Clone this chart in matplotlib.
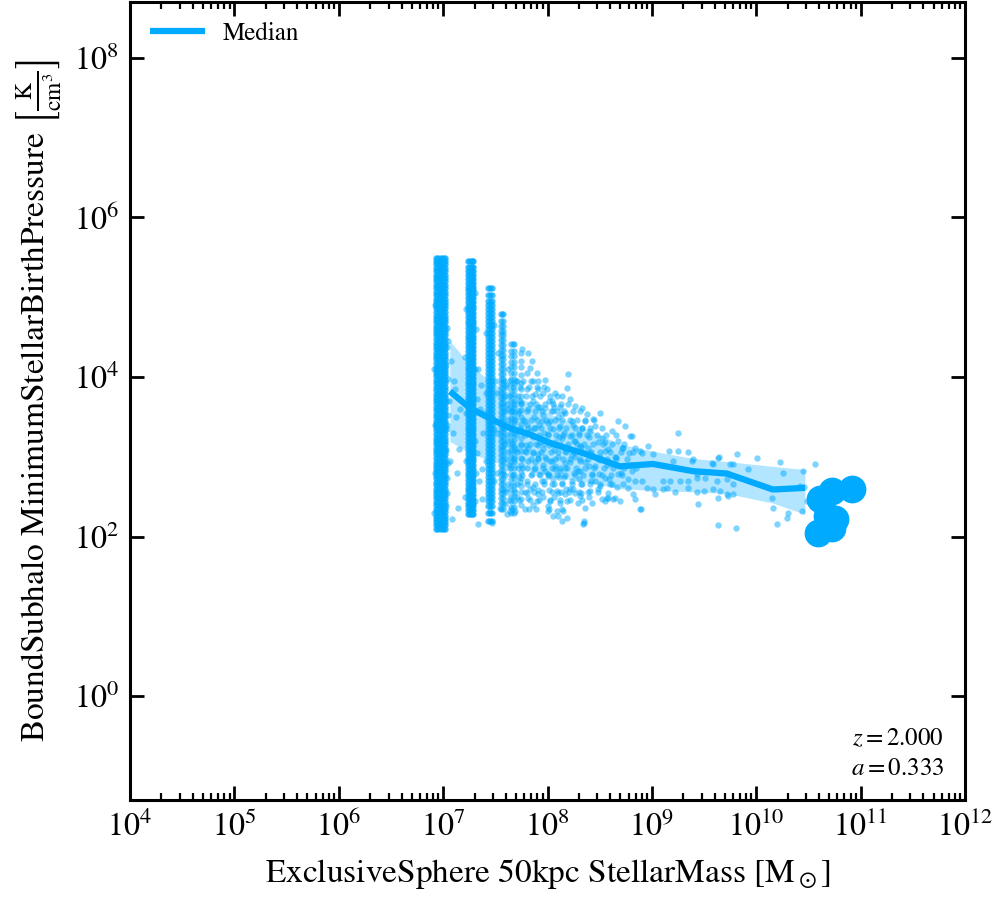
import matplotlib
matplotlib.use("Agg")
import matplotlib.pyplot as plt
import numpy as np
from matplotlib.ticker import LogLocator, NullLocator, LogFormatterMathtext, FixedLocator

plt.rcParams['font.family'] = 'serif'
plt.rcParams['font.serif'] = ['STIXGeneral', 'Liberation Serif', 'DejaVu Serif']
plt.rcParams['mathtext.fontset'] = 'stix'

# ---------------- data (log10 values) ----------------
# dense vertical columns (discrete stellar masses): mass spread and pressures
col1_logm = [6.935, 6.955, 6.975, 6.995, 7.015]
col1_logp = [5.49, 5.45, 5.41, 5.36, 5.33, 5.28, 5.24, 5.20, 5.15, 5.11, 5.07, 5.03, 4.98, 4.94,
             4.90, 4.86, 4.81, 4.77, 4.73, 4.69, 4.64, 4.60, 4.56, 4.52, 4.47, 4.43, 4.39, 4.35,
             4.30, 4.26, 4.22, 4.18, 4.13, 4.09, 4.05, 4.01, 3.96, 3.92, 3.88, 3.84, 3.79, 3.75,
             3.71, 3.67, 3.62, 3.58, 3.54, 3.50, 3.45, 3.41, 3.37, 3.33, 3.28, 3.24, 3.20, 3.16,
             3.11, 3.07, 3.03, 2.99, 2.94, 2.90, 2.86, 2.82, 2.77, 2.73, 2.69, 2.65, 2.60, 2.56,
             2.52, 2.48, 2.43, 2.39, 2.35, 2.31, 2.26, 2.22, 2.18, 2.14, 2.10]
col2_logm = [7.235, 7.255, 7.275, 7.29]
col2_logp = [5.45, 5.38, 5.33, 5.28, 5.23, 5.18, 5.13, 5.09, 5.04, 4.99, 4.94, 4.89, 4.85, 4.80,
             4.75, 4.70, 4.66, 4.61, 4.56, 4.51, 4.47, 4.42, 4.37, 4.32, 4.28, 4.23, 4.18, 4.13,
             4.09, 4.04, 3.99, 3.94, 3.90, 3.85, 3.80, 3.75, 3.71, 3.66, 3.61, 3.56, 3.52, 3.47,
             3.42, 3.37, 3.33, 3.28, 3.23, 3.18, 3.14, 3.09, 3.04, 2.99, 2.95, 2.90, 2.85, 2.80,
             2.76, 2.71, 2.66, 2.61, 2.57, 2.52, 2.47, 2.42, 2.38, 2.33, 2.28]
col3_logm = [7.43, 7.45, 7.47]
col3_logp = [5.11, 5.03, 4.95, 4.90, 4.85, 4.80, 4.75, 4.70, 4.65, 4.60, 4.55, 4.50, 4.45, 4.40,
             4.35, 4.30, 4.25, 4.20, 4.15, 4.10, 4.05, 4.00, 3.95, 3.90, 3.85, 3.80, 3.75, 3.70,
             3.65, 3.60, 3.55, 3.50, 3.45, 3.40, 3.35, 3.30, 3.25, 3.20, 3.15, 3.10, 3.05, 3.00,
             2.95, 2.90, 2.85, 2.80, 2.75, 2.70, 2.65, 2.60, 2.55, 2.50, 2.44, 2.38, 2.30, 2.19]
col4_logm = [7.55, 7.57]
col4_logp = [4.79, 4.70, 4.64, 4.58, 4.52, 4.46, 4.40, 4.34, 4.28, 4.22, 4.16, 4.10, 4.04, 3.98,
             3.92, 3.86, 3.80, 3.74, 3.68, 3.62, 3.56, 3.50, 3.44, 3.38, 3.32, 3.26, 3.20, 3.14,
             3.08, 3.02, 2.96, 2.90, 2.84, 2.78, 2.72, 2.66, 2.60, 2.54, 2.48, 2.42, 2.35]
col5_logm = [7.655, 7.675]
col5_logp = [4.41, 4.33, 4.26, 4.19, 4.12, 4.05, 3.98, 3.91, 3.84, 3.77, 3.70, 3.63, 3.56, 3.49,
             3.42, 3.35, 3.28, 3.21, 3.14, 3.07, 3.00, 2.93, 2.86, 2.79, 2.72, 2.65, 2.58, 2.51,
             2.44, 2.37, 2.30]
col6_logm = [7.75]
col6_logp = [4.30, 4.20, 4.12, 4.02, 3.93, 3.85, 3.76, 3.68, 3.58, 3.50, 3.41, 3.33, 3.24, 3.15,
             3.07, 2.98, 2.90, 2.81, 2.73, 2.64, 2.56, 2.47, 2.40]

# galaxies scattered just off the edges of the first columns
edge_logm = [7.035, 7.04, 7.03, 7.045, 7.035, 7.05, 7.04, 7.03, 7.045, 7.035, 7.04, 7.03,
             6.92, 6.915, 6.92, 6.925, 6.915,
             7.215, 7.21, 7.22, 7.215, 7.21, 7.31, 7.315, 7.31, 7.32, 7.31, 7.315, 7.305,
             7.41, 7.415, 7.41, 7.49, 7.495, 7.49, 7.485]
edge_logp = [4.62, 4.38, 4.15, 3.98, 3.70, 3.52, 3.35, 3.08, 2.92, 2.74, 2.55, 2.38,
             4.90, 4.10, 3.40, 2.80, 2.30,
             4.85, 4.25, 3.55, 2.95, 2.50, 5.05, 4.60, 4.10, 3.72, 3.20, 2.80, 2.45,
             4.55, 3.80, 2.95, 4.65, 3.95, 3.35, 2.70]

# individual scattered galaxies
cloud_logm = [7.563, 7.669, 7.755, 7.812, 7.851, 7.831, 7.898, 7.975, 8.195, 7.908, 7.994, 8.071,
              8.186, 8.138, 8.215, 8.262, 8.330, 8.377, 8.674, 8.435, 8.454, 8.617, 8.808, 8.521,
              8.330, 8.234, 8.138, 8.052, 7.975, 7.879, 7.946, 7.879, 8.004, 8.138, 8.262, 8.387,
              8.550, 8.713, 8.837, 8.904, 7.812, 7.908, 8.042, 8.167, 8.291, 8.425, 8.550, 8.674,
              8.808, 8.904, 7.755, 7.851, 7.946, 8.042, 8.138, 8.234, 8.330, 8.454, 8.617, 8.770,
              7.908, 8.090, 8.167, 8.262, 7.812, 7.898, 8.023, 8.119, 8.186, 8.291, 8.358, 8.425,
              8.521, 8.579, 8.646, 8.550, 8.885, 8.004, 8.090, 8.148, 8.052, 8.100, 8.349, 8.349,
              7.688, 7.640, 7.611, 7.592, 7.544,
              9.249, 8.789, 8.962, 9.163, 9.249, 9.393, 9.632, 9.814, 10.006, 10.226, 10.561,
              10.255, 10.446, 9.920, 9.776, 9.584, 9.431, 9.268, 9.144, 9.010, 8.952, 8.818,
              8.693, 8.626, 8.569, 9.584, 9.441, 9.718, 10.149, 10.159, 10.197, 10.293, 10.303,
              10.437, 9.632, 9.805, 8.339, 8.186, 8.138, 7.142, 7.084, 7.333, 7.372, 7.448, 7.467,
              9.345, 9.642, 9.747, 9.575, 9.383, 9.201, 9.010, 8.885, 8.722, 9.431, 9.105, 9.172,
              9.345, 9.508, 9.623, 9.718, 9.776, 8.837, 8.722, 9.105, 9.220, 9.345, 9.431, 9.498,
              9.651, 9.728, 9.776, 8.837, 9.029, 9.632, 8.895, 10.418, 10.456, 10.485,
              7.736, 7.784, 7.831, 7.927, 7.975, 8.023, 8.071, 8.119, 8.167, 8.215, 8.262, 8.310,
              8.358, 8.406, 8.454, 8.500, 8.550, 8.600, 8.646, 8.500, 8.410, 8.310, 8.215, 8.120,
              8.000, 7.880, 7.780, 7.740, 7.930, 8.040, 8.120, 8.360, 8.500, 8.740, 7.740, 7.830,
              7.975, 8.070, 8.215, 8.310,
              7.05, 7.08, 7.10, 7.06, 7.12, 7.09, 7.15, 7.07, 7.13, 7.04, 7.11, 7.16,
              7.33, 7.36, 7.35, 7.38, 7.32, 7.37, 7.34, 7.39]
cloud_logp = [4.788, 4.412, 4.349, 4.299, 4.198, 4.110, 4.048, 3.960, 4.035, 3.947, 3.847, 3.797,
              3.859, 3.759, 3.721, 3.634, 3.608, 3.533, 3.445, 3.470, 3.383, 3.320, 3.257, 3.232,
              3.358, 3.445, 3.533, 3.571, 3.608, 3.784, 3.445, 3.358, 3.282, 3.232, 3.194, 3.107,
              3.069, 3.107, 3.107, 3.044, 3.107, 3.031, 2.944, 2.856, 2.818, 2.780, 2.730, 2.780,
              2.818, 2.693, 2.856, 2.780, 2.693, 2.655, 2.667, 2.693, 2.655, 2.693, 2.655, 2.605,
              2.530, 2.567, 2.530, 2.542, 2.479, 2.442, 2.442, 2.417, 2.442, 2.417, 2.354, 2.417,
              2.467, 2.479, 2.479, 2.442, 2.341, 2.316, 2.316, 2.316, 2.253, 2.253, 2.191, 2.166,
              2.316, 2.316, 2.279, 2.404, 2.354,
              3.295, 3.257, 3.132, 3.069, 3.069, 2.969, 2.981, 3.031, 2.981, 2.931, 2.906,
              2.793, 2.818, 2.843, 2.906, 2.906, 2.780, 2.693, 2.605, 2.592, 2.605, 2.530,
              2.442, 2.467, 2.479, 2.592, 2.404, 2.530, 2.479, 2.354, 2.153, 2.228, 2.291,
              2.316, 2.141, 2.103, 2.153, 2.228, 2.191, 2.354, 2.216, 2.153, 2.467, 2.316, 2.166,
              3.057, 2.994, 2.906, 2.920, 2.944, 2.944, 3.031, 3.069, 3.107, 2.730, 2.693, 2.693,
              2.693, 2.730, 2.693, 2.718, 2.655, 2.693, 2.655, 2.592, 2.555, 2.605, 2.555, 2.567,
              2.567, 2.505, 2.530, 2.467, 2.530, 2.479, 2.341, 2.630, 2.617, 2.442,
              3.700, 3.445, 3.320, 3.190, 3.000, 3.445, 3.190, 3.380, 3.070, 3.260, 3.000, 3.130,
              2.940, 3.320, 2.880, 3.000, 3.190, 2.920, 3.000, 2.630, 2.570, 2.510, 2.590, 2.820,
              2.760, 2.940, 3.070, 3.320, 3.630, 3.700, 3.630, 3.450, 3.550, 3.380, 2.690, 2.600,
              2.820, 2.880, 2.940, 2.820,
              4.45, 4.20, 3.95, 3.70, 3.50, 3.30, 3.10, 2.95, 2.80, 3.40, 3.85, 3.60,
              4.10, 3.90, 3.60, 3.30, 3.05, 2.85, 2.70, 3.55]

# more galaxies in the dense part of the cloud
cloud2_logm = [7.60, 7.62, 7.61, 7.63, 7.60, 7.62, 7.71, 7.72, 7.70, 7.73, 7.71,
               7.80, 7.80, 7.81, 7.80, 7.79, 7.81, 7.80, 7.80, 7.82,
               7.86, 7.86, 7.87, 7.86, 7.86, 7.87, 7.86, 7.86,
               7.91, 7.91, 7.92, 7.91, 7.91, 7.92, 7.91,
               7.96, 7.96, 7.97, 7.96, 7.96, 7.97, 7.96,
               8.01, 8.00, 8.01, 8.02, 8.00, 8.01, 8.00,
               8.06, 8.05, 8.06, 8.07, 8.05, 8.06,
               8.10, 8.11, 8.10, 8.11, 8.10,
               8.17, 8.16, 8.18, 8.17, 8.16, 8.18,
               8.24, 8.25, 8.23, 8.25, 8.24,
               8.30, 8.32, 8.31, 8.30, 8.32,
               8.40, 8.41, 8.40, 8.42, 8.40,
               8.48, 8.50, 8.49, 8.48,
               8.58, 8.57, 8.59, 8.58,
               8.68, 8.66, 8.70, 8.67,
               8.78, 8.80, 8.77,
               7.52, 7.52, 7.52, 7.53]
cloud2_logp = [3.90, 3.60, 3.20, 2.90, 2.60, 4.10, 3.95, 3.55, 3.10, 2.75, 2.50,
               4.05, 3.85, 3.60, 3.40, 3.15, 2.95, 2.70, 2.55, 2.35,
               3.95, 3.70, 3.50, 3.25, 3.05, 2.85, 2.62, 2.40,
               3.85, 3.62, 3.40, 3.15, 2.98, 2.78, 2.58,
               3.80, 3.52, 3.30, 3.10, 2.90, 2.70, 2.50,
               3.70, 3.42, 3.15, 2.95, 2.78, 2.58, 2.38,
               3.62, 3.35, 3.08, 2.85, 2.72, 2.50,
               3.50, 3.25, 3.00, 2.75, 2.55,
               3.55, 3.30, 3.12, 2.92, 2.75, 2.60,
               3.40, 3.20, 3.02, 2.80, 2.60,
               3.30, 3.12, 2.95, 2.72, 2.55,
               3.25, 3.05, 2.88, 2.70, 2.50,
               3.18, 2.96, 2.78, 2.60,
               3.10, 2.90, 2.72, 2.55,
               3.20, 3.00, 2.80, 2.62,
               3.05, 2.90, 2.72,
               3.80, 3.30, 2.80, 4.30]

# densest part of the cloud, read row by row (pressure row -> masses in that row)
cloud3_row_logp = [3.95, 3.87, 3.76, 3.66, 3.57, 3.46, 3.36, 3.27, 3.16, 3.06, 2.97, 2.86,
                   2.77, 2.66, 2.56, 2.46, 2.35]
cloud3_row_logm = [
    [7.58, 7.64, 7.70, 7.77, 7.84],
    [7.60, 7.67, 7.74, 7.82, 7.90, 7.97],
    [7.58, 7.63, 7.72, 7.79, 7.85, 7.93, 8.02, 8.09],
    [7.61, 7.68, 7.75, 7.83, 7.89, 7.98, 8.05, 8.13, 8.20],
    [7.59, 7.66, 7.73, 7.80, 7.88, 7.95, 8.03, 8.09, 8.16, 8.24, 8.31],
    [7.62, 7.69, 7.77, 7.84, 7.90, 7.99, 8.07, 8.14, 8.22, 8.28, 8.36, 8.45],
    [7.58, 7.65, 7.74, 7.81, 7.87, 7.94, 8.02, 8.11, 8.18, 8.26, 8.33, 8.41, 8.52],
    [7.61, 7.70, 7.78, 7.85, 7.92, 8.00, 8.08, 8.15, 8.23, 8.30, 8.38, 8.47, 8.56, 8.66],
    [7.59, 7.66, 7.75, 7.83, 7.89, 7.97, 8.05, 8.12, 8.20, 8.28, 8.35, 8.44, 8.53, 8.62, 8.73],
    [7.62, 7.71, 7.79, 7.86, 7.94, 8.03, 8.10, 8.18, 8.25, 8.33, 8.42, 8.50, 8.60, 8.70, 8.82],
    [7.60, 7.68, 7.76, 7.84, 7.91, 7.99, 8.07, 8.15, 8.22, 8.31, 8.39, 8.48, 8.57, 8.66, 8.76],
    [7.63, 7.72, 7.80, 7.88, 7.96, 8.04, 8.12, 8.19, 8.27, 8.36, 8.45, 8.54, 8.63, 8.73, 8.85],
    [7.59, 7.67, 7.76, 7.84, 7.93, 8.01, 8.09, 8.17, 8.26, 8.34, 8.43, 8.52, 8.61, 8.71],
    [7.62, 7.71, 7.80, 7.88, 7.97, 8.06, 8.14, 8.23, 8.32, 8.41, 8.50, 8.60],
    [7.60, 7.69, 7.78, 7.87, 7.95, 8.04, 8.13, 8.21, 8.30, 8.39, 8.48],
    [7.63, 7.73, 7.83, 7.92, 8.02, 8.12, 8.22, 8.33],
    [7.66, 7.78, 7.89, 8.01, 8.14],
]

# running median and percentile band
median_logm = [7.065, 7.257, 7.448, 7.640, 7.831, 8.052, 8.377, 8.693, 9.010, 9.393, 9.718, 10.159, 10.466]
median_logp = [3.82, 3.61, 3.48, 3.36, 3.28, 3.16, 3.03, 2.88, 2.91, 2.82, 2.79, 2.59, 2.61]
band_hi_logp = [4.45, 4.15, 3.95, 3.80, 3.68, 3.52, 3.35, 3.16, 3.07, 2.98, 2.94, 2.88, 2.84]
band_lo_logp = [3.19, 3.05, 2.95, 2.88, 2.82, 2.75, 2.68, 2.60, 2.58, 2.56, 2.54, 2.42, 2.28]

# most massive galaxies (large markers)
big_logm = [10.916, 10.724, 10.609, 10.676, 10.753, 10.590, 10.724]
big_logp = [2.592, 2.567, 2.467, 2.254, 2.216, 2.040, 2.103]

color = '#00AAFF'

fig = plt.figure(figsize=(9.96, 9.0), dpi=100)
ax = fig.add_axes([130 / 996, 1 - 800 / 900, (965 - 130) / 996, (800 - 2) / 900])

# dense columns (many overlapping galaxies -> nearly opaque)
for lm, lp, a in [(col1_logm, col1_logp, 0.8), (col2_logm, col2_logp, 0.8), (col3_logm, col3_logp, 0.7),
                  (col4_logm, col4_logp, 0.6), (col5_logm, col5_logp, 0.55), (col6_logm, col6_logp, 0.5)]:
    mx = np.repeat(np.array(lm), len(lp))
    py = np.tile(np.array(lp), len(lm))
    ax.scatter(10 ** mx, 10 ** py, s=21, color=color, alpha=a, linewidths=0, zorder=2)

xs = list(cloud_logm) + list(cloud2_logm) + list(edge_logm)
ys = list(cloud_logp) + list(cloud2_logp) + list(edge_logp)
for p, row in zip(cloud3_row_logp, cloud3_row_logm):
    for m in row:
        xs.append(m)
        ys.append(p)
xs = np.array(xs)
ys = np.array(ys)
ax.scatter(10 ** xs, 10 ** ys, s=21, color=color, alpha=0.5, linewidths=0, zorder=2)

ax.fill_between(10 ** np.array(median_logm), 10 ** np.array(band_lo_logp), 10 ** np.array(band_hi_logp),
                color=color, alpha=0.3, linewidth=0, zorder=1)
ax.plot(10 ** np.array(median_logm), 10 ** np.array(median_logp), color=color, lw=4.5,
        solid_capstyle='butt', zorder=3, label='Median')
ax.scatter(10 ** np.array(big_logm), 10 ** np.array(big_logp), s=400, color=color, linewidths=0, zorder=4)

ax.set_xscale('log')
ax.set_yscale('log')
ax.set_xlim(1e4, 1e12)
ax.set_ylim(0.05, 5e8)

ax.xaxis.set_major_locator(FixedLocator([10.0 ** k for k in range(4, 13)]))
ax.xaxis.set_minor_locator(LogLocator(base=10, subs=np.arange(2, 10), numticks=20))
ax.xaxis.set_major_formatter(LogFormatterMathtext())
ax.yaxis.set_major_locator(FixedLocator([1e0, 1e2, 1e4, 1e6, 1e8]))
ax.yaxis.set_minor_locator(NullLocator())
ax.yaxis.set_major_formatter(LogFormatterMathtext())

ax.tick_params(which='both', direction='in', top=True, right=True)
ax.tick_params(which='major', length=10, width=2, labelsize=23, pad=8)
ax.tick_params(which='minor', length=5, width=1.6)
for sp in ax.spines.values():
    sp.set_linewidth(2.2)

ax.set_xlabel(r'ExclusiveSphere 50kpc StellarMass $[{\rm M}_\odot]$', fontsize=24, labelpad=10)
ax.set_ylabel(r'BoundSubhalo MinimumStellarBirthPressure $\left[\frac{\rm K}{\rm cm^3}\right]$',
              fontsize=24, labelpad=6)

leg = ax.legend(loc='upper left', frameon=False, fontsize=18, handlelength=2.2,
                handletextpad=0.7, borderaxespad=0.4)

ax.text(0.975, 0.024, '$z=2.000$\n$a=0.333$', transform=ax.transAxes, ha='right', va='bottom',
        fontsize=18, linespacing=1.3)

fig.savefig('out.png', dpi=100)
